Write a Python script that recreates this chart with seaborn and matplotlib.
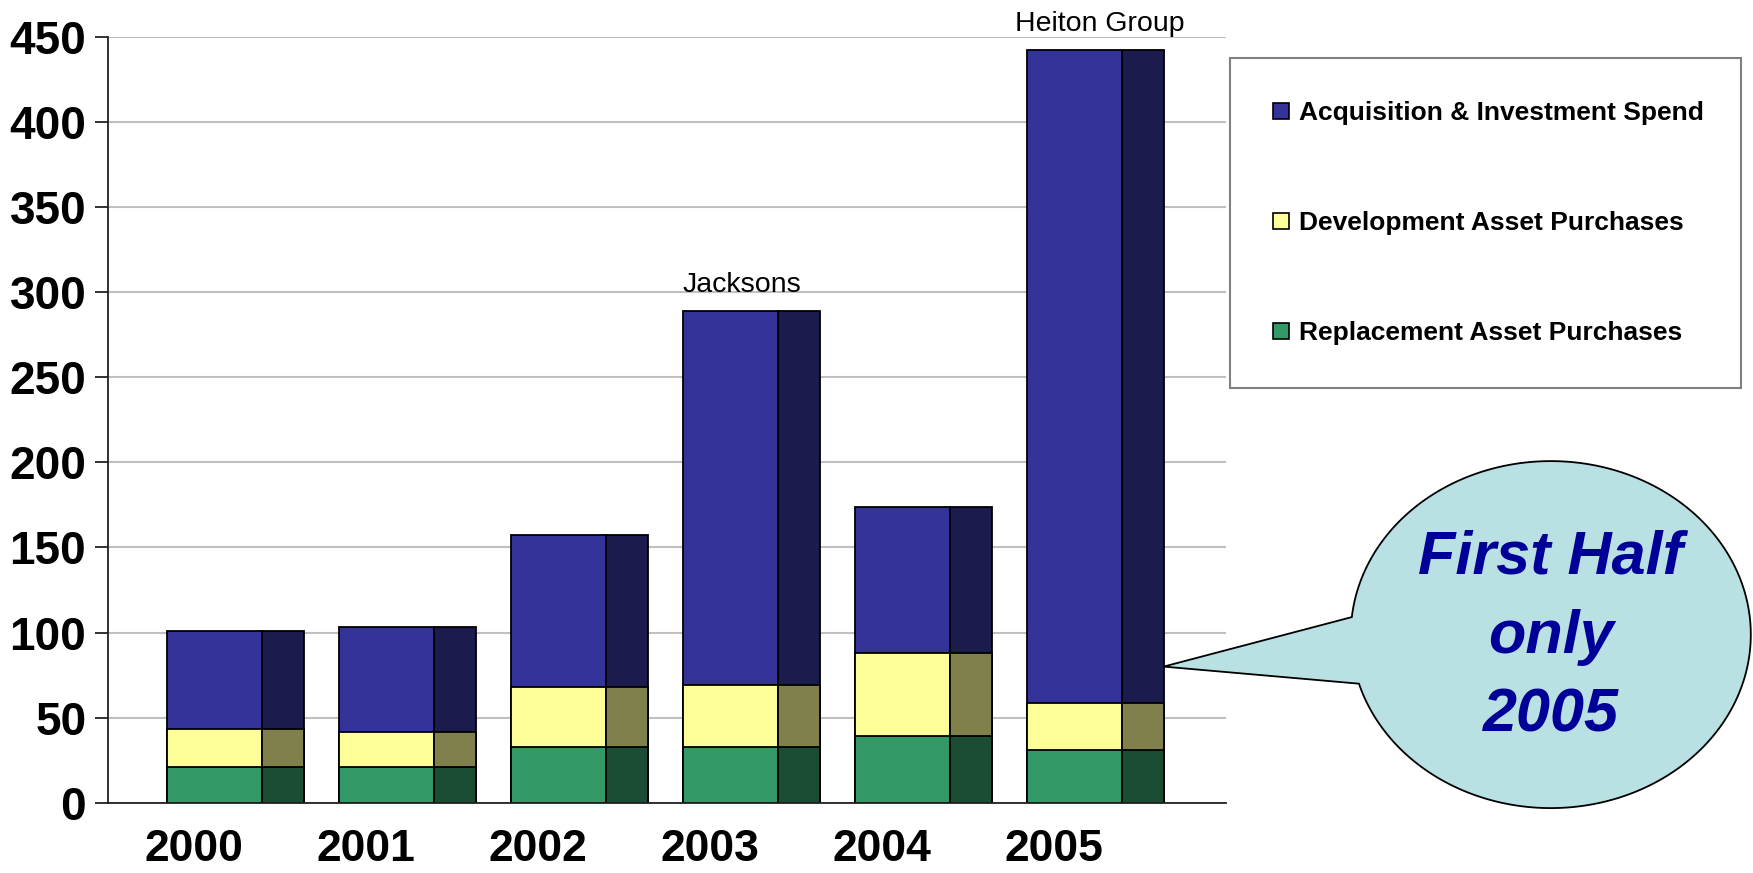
import numpy as np
import pandas as pd
import matplotlib
matplotlib.use("Agg")
import matplotlib.pyplot as plt
import seaborn as sns
from matplotlib.patches import Patch, PathPatch
from matplotlib.path import Path

# data
years = ["2000", "2001", "2002", "2003", "2004", "2005"]
replacement = [21.0, 21.0, 33.0, 33.0, 39.3, 30.8]
development = [22.6, 20.3, 35.0, 36.3, 48.8, 27.8]
acquisition = [57.6, 62.2, 89.1, 219.8, 85.8, 383.9]
series_names = ["Acquisition & Investment Spend", "Development Asset Purchases",
                "Replacement Asset Purchases"]
bar_notes = {3: "Jacksons", 5: "Heiton Group"}

# colours: front face and darker side face
front_cols = ["#333399", "#ffff99", "#339966"]
side_cols = ["#1b1b4d", "#80804d", "#1a4d33"]

sns.set_style("white")
plt.rcParams['font.family'] = ['Liberation Sans', 'DejaVu Sans']
plt.rcParams['text.color'] = 'black'
plt.rcParams['xtick.color'] = 'black'
plt.rcParams['ytick.color'] = 'black'

df = pd.DataFrame({'year': years, 'repl': replacement, 'dev': development, 'acq': acquisition})
df['pos'] = np.arange(len(df))
# cumulative tops, drawn tallest first so the smaller ones sit on top
df['top_acq'] = df['repl'] + df['dev'] + df['acq']
df['top_dev'] = df['repl'] + df['dev']
df['top_repl'] = df['repl']
layers = ['top_acq', 'top_dev', 'top_repl']

fig = plt.figure(figsize=(17.53, 8.73), dpi=100)
ax = fig.add_axes([0.0614, 0.0805, 0.6377, 0.8771])

# front face then side face of each bar
faces = [(0.1235, 0.553, front_cols), (0.52, 0.24, side_cols)]
for offset, w, cols in faces:
    for col, c in zip(layers, cols):
        sns.barplot(x=df['pos'].values + offset, y=df[col].values, native_scale=True,
                    width=w, color=c, saturation=1, edgecolor='black', linewidth=1.3,
                    errorbar=None, ax=ax)

# notes above some bars
note_dx = {3: 0.19, 5: 0.27}
for i, txt in bar_notes.items():
    ax.text(i + note_dx[i], df['top_acq'][i] + 11, txt, ha='center', va='baseline',
            fontsize=20.5, clip_on=False)

ax.set_xlim(-0.5, 6.0)
ax.set_ylim(0, 450)
ax.set_xlabel('')
ax.set_ylabel('')

ax.set_xticks(np.arange(-0.5, 6.0, 1.0))
ax.set_xticklabels([])
ax.set_xticks(np.arange(len(years)), minor=True)
ax.set_xticklabels(years, minor=True, fontsize=32, fontweight='bold')
ax.tick_params(axis='x', which='major', length=9.4, width=1.3, direction='out', color='#222222')
ax.tick_params(axis='x', which='minor', length=0, pad=19)

ax.set_yticks(np.arange(0, 451, 50))
ax.set_yticklabels([str(v) for v in range(0, 451, 50)], fontsize=33, fontweight='bold')
ax.tick_params(axis='y', length=9.4, width=1.3, direction='out', pad=6, color='#222222', left=True)

ax.yaxis.grid(True, color='#c0c0c0', linewidth=1.5)
ax.set_axisbelow(True)
for s in ['top', 'right']:
    ax.spines[s].set_visible(False)
for s in ['left', 'bottom']:
    ax.spines[s].set_color('#222222')
    ax.spines[s].set_linewidth(1.3)

# legend box on the right
handles = [Patch(facecolor=c, edgecolor='black', linewidth=1.2, label=n)
           for c, n in zip(front_cols, series_names)]
leg = fig.legend(handles=handles, loc='upper left',
                 bbox_to_anchor=(0.7014, 0.5567, 0.292, 0.377), mode='expand',
                 borderaxespad=0, prop={'weight': 'bold', 'size': 19},
                 fancybox=False, framealpha=1, edgecolor='#808080',
                 borderpad=1.65, labelspacing=3.25, handlelength=0.6,
                 handleheight=0.55, handletextpad=0.4)
leg.get_frame().set_linewidth(1.5)

# callout bubble (pixel coords, y from top) pointing at the 2005 bar
W, H = 1753.0, 873.0
cx, cy, a, b = 1550.8, 634.6, 200.0, 173.5
tip_fig = fig.transFigure.inverted().transform(ax.transData.transform((5.64, 80)))
t1 = np.arctan2((cy - 617.0) / b, (1350.8 - cx) / a)
t2 = np.arctan2((cy - 684.0) / b, (1357.7 - cx) / a)
if t1 < 0:
    t1 += 2 * np.pi
if t2 < 0:
    t2 += 2 * np.pi
t = np.linspace(t2, t1 + 2 * np.pi, 300)
xs = (cx + a * np.cos(t)) / W
ys = 1 - (cy - b * np.sin(t)) / H
verts = list(zip(xs, ys)) + [tuple(tip_fig), (xs[0], ys[0])]
codes = [Path.MOVETO] + [Path.LINETO] * (len(verts) - 2) + [Path.CLOSEPOLY]
bubble = PathPatch(Path(verts, codes), facecolor='#b9e0e3', edgecolor='black',
                   linewidth=1.3, transform=fig.transFigure)
fig.add_artist(bubble)
fig.text(cx / W, 1 - 637 / H, "First Half\nonly\n2005", ha='center', va='center',
         fontsize=44, fontweight='bold', fontstyle='italic', color='#000099',
         linespacing=1.5)

fig.savefig("out.png", dpi=100)
